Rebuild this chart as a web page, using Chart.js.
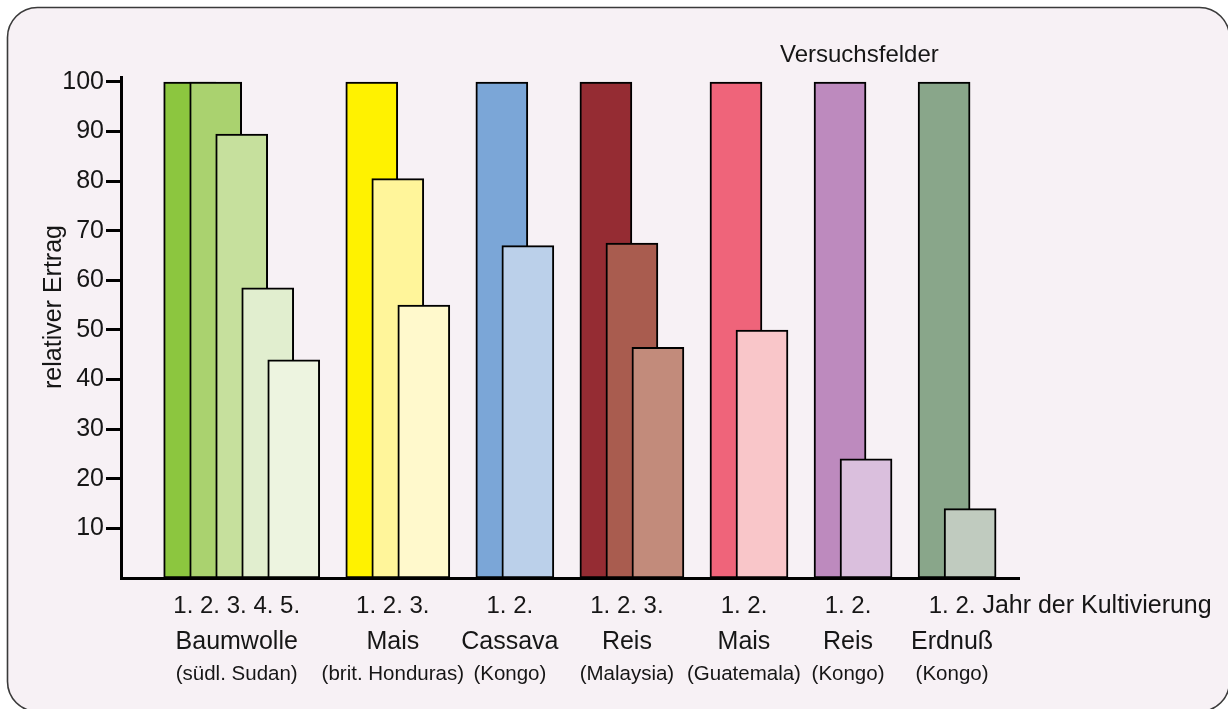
<!DOCTYPE html>
<html><head><meta charset="utf-8">
<script src="https://cdn.jsdelivr.net/npm/chart.js@4.4.1/dist/chart.umd.min.js"></script>
<style>html,body{margin:0;padding:0;background:#fff;} #wrap{width:1228px;height:709px;position:relative;}</style>
</head><body><div id="wrap"><canvas id="c" width="1228" height="709"></canvas></div>
<script>
// ---- data ----
const crops = ['Baumwolle', 'Mais', 'Cassava', 'Reis', 'Mais', 'Reis', 'Erdnuß'];
const regions = ['(südl. Sudan)', '(brit. Honduras)', '(Kongo)', '(Malaysia)', '(Guatemala)', '(Kongo)', '(Kongo)'];
const baumwolle = [100, 100, 89.5, 58.5, 44];
const maisHonduras = [100, 80.5, 55];
const cassava = [100, 67];
const reisMalaysia = [100, 67.5, 46.5];
const maisGuatemala = [100, 50];
const reisKongo = [100, 24];
const erdnuss = [100, 14];
const yields = [baumwolle, maisHonduras, cassava, reisMalaysia, maisGuatemala, reisKongo, erdnuss];
const yearLabels = ['1.', '2.', '3.', '4.', '5.'];
const yTickValues = [10, 20, 30, 40, 50, 60, 70, 80, 90, 100];
const xAxisTitle = 'Jahr der Kultivierung';
const yAxisTitle = 'relativer Ertrag';
const topNote = 'Versuchsfelder';

// ---- styles ----
const cropColors = [
  ['#8cc63f', '#aad26f', '#c6e09d', '#e1eecf', '#edf4e0'],
  ['#fff200', '#fff59a', '#fff9cc'],
  ['#7ba6d7', '#bbd0ea'],
  ['#952c33', '#a95c4f', '#c28b7b'],
  ['#ef647a', '#f9c6c9'],
  ['#bd8abe', '#dabfdd'],
  ['#89a68a', '#c0cbbf']
];
const GAP = 2;
const FONT = "'Liberation Sans', Arial, sans-serif";

const groupStart = [];
let acc = 0;
yields.forEach(g => { groupStart.push(acc); acc += g.length + GAP; });

const maxYears = Math.max(...yields.map(g => g.length));
const datasets = [];
for (let j = 0; j < maxYears; j++) {
  const data = [], colors = [];
  yields.forEach((g, gi) => {
    if (g[j] !== undefined) {
      data.push({ x: groupStart[gi] + j, y: g[j] });
      colors.push(cropColors[gi][j]);
    }
  });
  datasets.push({
    label: yearLabels[j],
    data,
    backgroundColor: colors,
    borderColor: '#000',
    borderWidth: 2,
    borderSkipped: false,
    barThickness: 52,
    grouped: false,
    order: maxYears - j
  });
}

const bgPlugin = {
  id: 'bg',
  beforeDraw(chart) {
    const ctx = chart.ctx;
    ctx.save();
    ctx.fillStyle = '#ffffff';
    ctx.fillRect(0, 0, chart.width, chart.height);
    ctx.beginPath();
    ctx.roundRect(7.5, 7.5, 1222, 704, 30);
    ctx.fillStyle = '#f7f1f5';
    ctx.fill();
    ctx.lineWidth = 1.6;
    ctx.strokeStyle = '#3a3a3a';
    ctx.stroke();
    ctx.restore();
  }
};

const labelPlugin = {
  id: 'labels',
  afterDraw(chart) {
    const ctx = chart.ctx;
    const xs = chart.scales.x;
    ctx.save();
    ctx.fillStyle = '#161616';
    ctx.textBaseline = 'alphabetic';
    let lastRight = 0;
    yields.forEach((g, gi) => {
      const cx = xs.getPixelForValue(groupStart[gi] + (g.length - 1) / 2) - 5;
      ctx.textAlign = 'center';
      ctx.font = '24px ' + FONT;
      const nums = yearLabels.slice(0, g.length).join(' ');
      ctx.fillText(nums, cx, 613);
      lastRight = cx + ctx.measureText(nums).width / 2;
      ctx.font = '25px ' + FONT;
      ctx.fillText(crops[gi], cx, 649);
      ctx.font = '20.5px ' + FONT;
      ctx.fillText(regions[gi], cx, 680);
    });
    ctx.font = '25px ' + FONT;
    ctx.textAlign = 'left';
    ctx.fillText(xAxisTitle, lastRight + ctx.measureText(' ').width, 613);
    ctx.font = '24px ' + FONT;
    ctx.fillText(topNote, 780, 62);
    // y axis title
    ctx.translate(61, 307);
    ctx.rotate(-Math.PI / 2);
    ctx.textAlign = 'center';
    ctx.font = '25px ' + FONT;
    ctx.fillText(yAxisTitle, 0, 0);
    ctx.restore();
  }
};

new Chart(document.getElementById('c'), {
  type: 'bar',
  data: { datasets },
  options: {
    responsive: false,
    animation: false,
    devicePixelRatio: 1,
    layout: { padding: { left: 0, top: 77, right: 209, bottom: 0 } },
    plugins: { legend: { display: false }, tooltip: { enabled: false } },
    scales: {
      x: {
        type: 'linear',
        min: -2.64,
        max: 31.88,
        offset: false,
        grid: { display: false },
        border: { display: true, color: '#000', width: 3 },
        ticks: { display: false },
        afterFit(s) { s.height = 131; }
      },
      y: {
        min: 0,
        max: 101,
        afterBuildTicks(s) { s.ticks = yTickValues.map(v => ({ value: v })); },
        grid: { drawOnChartArea: false, drawTicks: true, tickLength: 15, tickWidth: 3, tickColor: '#000', color: '#000' },
        border: { display: true, color: '#000', width: 3 },
        ticks: { font: { family: FONT, size: 25 }, color: '#161616', padding: 2 },
        afterFit(s) { s.width = 121; }
      }
    }
  },
  plugins: [bgPlugin, labelPlugin]
});
</script>
</body></html>
